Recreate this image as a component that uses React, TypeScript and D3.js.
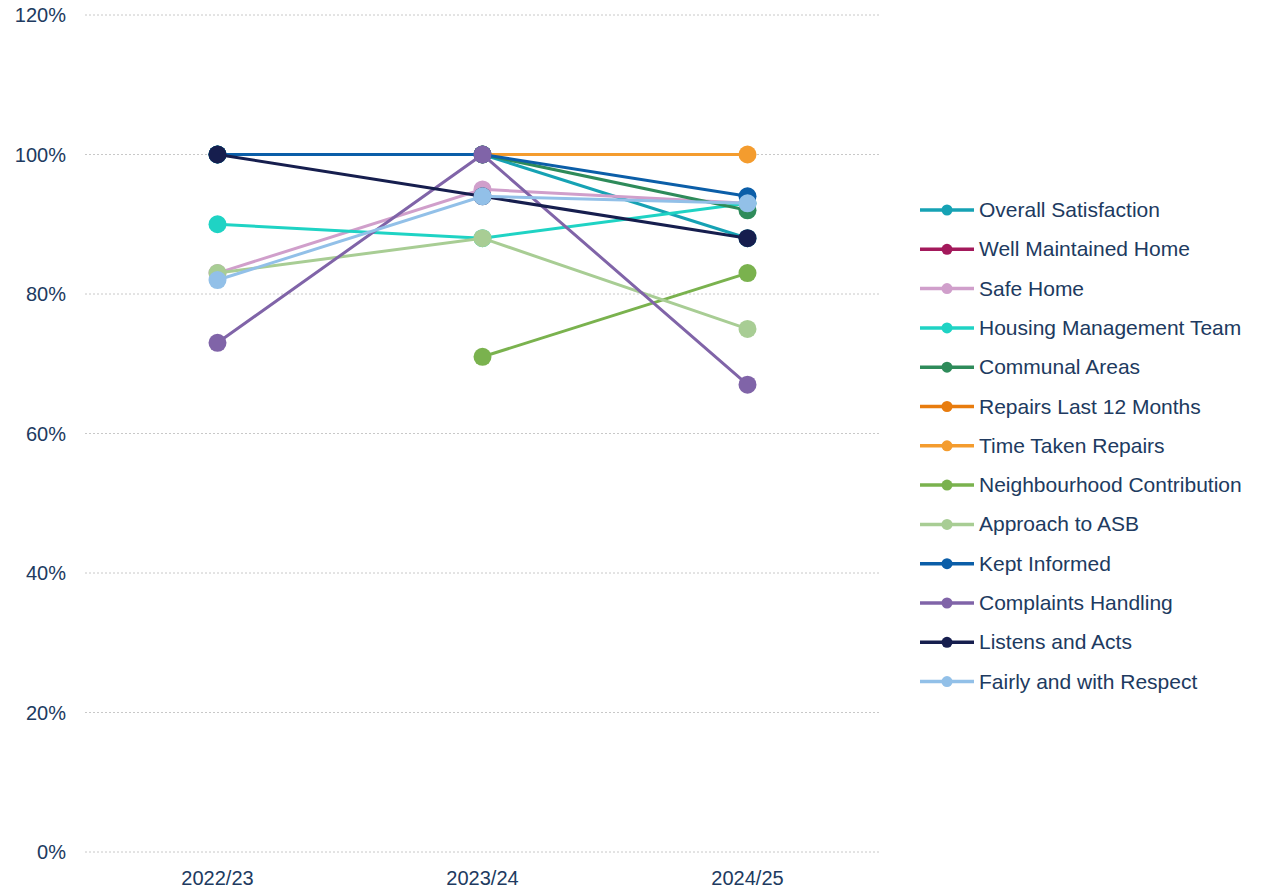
import { useEffect, useRef } from "react";
import * as d3 from "d3";

// Categorias do eixo X
const anos = ["2022/23", "2023/24", "2024/25"];

// Nomes das séries (ordem da legenda)
const series = [
  "Overall Satisfaction",
  "Well Maintained Home",
  "Safe Home",
  "Housing Management Team",
  "Communal Areas",
  "Repairs Last 12 Months",
  "Time Taken Repairs",
  "Neighbourhood Contribution",
  "Approach to ASB",
  "Kept Informed",
  "Complaints Handling",
  "Listens and Acts",
  "Fairly and with Respect"
];

const cores = [
  "#16a2b4",
  "#a3195b",
  "#d09fcb",
  "#1fd3c4",
  "#2e8b5a",
  "#e87c0e",
  "#f49c2e",
  "#7ab24e",
  "#a8cd94",
  "#0b5ea8",
  "#8064a8",
  "#161e4e",
  "#92c0e8"
];

// Valores (%) por série, na mesma ordem; null = sem dado
const valores: (number | null)[][] = [
  [100, 100, 88],
  [null, null, null],
  [83, 95, 93],
  [90, 88, 93],
  [100, 100, 92],
  [null, null, null],
  [null, 100, 100],
  [null, 71, 83],
  [83, 88, 75],
  [100, 100, 94],
  [73, 100, 67],
  [100, 94, 88],
  [82, 94, 93]
];

const ticksY = [0, 20, 40, 60, 80, 100, 120];

const W = 1262;
const H = 888;
const FONTE = "'Liberation Sans', Arial, sans-serif";
const COR_TEXTO = "#203a60";

export default function App() {
  const svgRef = useRef<SVGSVGElement>(null);

  useEffect(() => {
    if (!svgRef.current) return;
    const svg = d3.select(svgRef.current);
    svg.selectAll("*").remove();

    const x = d3.scaleBand().domain(anos).range([85, 880]).padding(0);
    const y = d3.scaleLinear().domain([0, 120]).range([852, 15]);
    const cx = (a: string) => (x(a) ?? 0) + x.bandwidth() / 2;

    // Grid
    svg
      .append("g")
      .selectAll("line")
      .data(ticksY)
      .enter()
      .append("line")
      .attr("x1", 85)
      .attr("x2", 880)
      .attr("y1", (d) => y(d))
      .attr("y2", (d) => y(d))
      .attr("stroke", "#c8c8c8")
      .attr("stroke-width", 1)
      .attr("stroke-dasharray", "2,2");

    // Rótulos eixo Y
    svg
      .append("g")
      .selectAll("text")
      .data(ticksY)
      .enter()
      .append("text")
      .attr("x", 66)
      .attr("y", (d) => y(d) + 7)
      .attr("text-anchor", "end")
      .style("font-family", FONTE)
      .style("font-size", "20px")
      .style("fill", COR_TEXTO)
      .text((d) => `${d}%`);

    // Rótulos eixo X
    svg
      .append("g")
      .selectAll("text")
      .data(anos)
      .enter()
      .append("text")
      .attr("x", (d) => cx(d))
      .attr("y", 885)
      .attr("text-anchor", "middle")
      .style("font-family", FONTE)
      .style("font-size", "20px")
      .style("fill", COR_TEXTO)
      .text((d) => d);

    const linha = d3
      .line<{ ano: string; v: number | null }>()
      .defined((d) => d.v != null)
      .x((d) => cx(d.ano))
      .y((d) => y(d.v as number));

    series.forEach((nome, i) => {
      const pts = anos.map((ano, j) => ({ ano, v: valores[i][j] }));
      const g = svg.append("g");
      g.append("path")
        .datum(pts)
        .attr("fill", "none")
        .attr("stroke", cores[i])
        .attr("stroke-width", 3)
        .attr("d", linha);
      g.selectAll("circle")
        .data(pts.filter((p) => p.v != null))
        .enter()
        .append("circle")
        .attr("cx", (d) => cx(d.ano))
        .attr("cy", (d) => y(d.v as number))
        .attr("r", 9)
        .attr("fill", cores[i]);
    });

    // Legenda
    const leg = svg.append("g").attr("transform", "translate(920,210)");
    series.forEach((nome, i) => {
      const yPos = i * 39.3;
      leg.append("line")
        .attr("x1", 0)
        .attr("x2", 54)
        .attr("y1", yPos)
        .attr("y2", yPos)
        .attr("stroke", cores[i])
        .attr("stroke-width", 3.5);
      leg.append("circle")
        .attr("cx", 27)
        .attr("cy", yPos)
        .attr("r", 5.5)
        .attr("fill", cores[i]);
      leg.append("text")
        .attr("x", 59)
        .attr("y", yPos + 7)
        .style("font-family", FONTE)
        .style("font-size", "21px")
        .style("fill", COR_TEXTO)
        .text(nome);
    });
  }, []);

  return (
    <svg
      ref={svgRef}
      width={W}
      height={H}
      style={{ position: "absolute", left: 0, top: 0, background: "#fff" }}
    />
  );
}
